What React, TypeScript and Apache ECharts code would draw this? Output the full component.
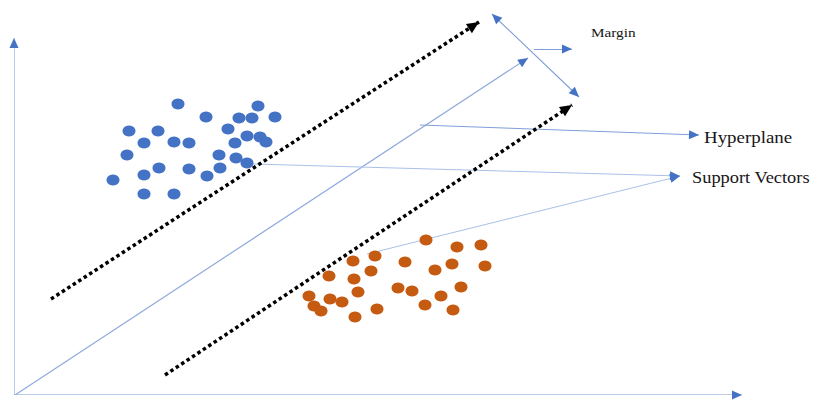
import React, { useEffect, useRef } from "react";
import * as echarts from "echarts";

// Data space: origin at the axes' corner, 1 unit = 1 px, y upward
const classA = [
  [164, 291], [244, 289], [192, 278], [225, 277], [238, 277], [261, 278],
  [115, 264], [144, 264], [214, 266], [233, 259], [246, 258], [252, 253],
  [130, 252], [160, 253], [175, 252], [221, 252], [113, 240], [205, 240],
  [222, 237], [233, 232], [145, 227], [175, 226], [206, 227], [130, 220],
  [193, 219], [99, 215], [130, 201], [160, 201],
];
const classB = [
  [412, 155], [443, 148], [467, 150], [361, 139], [339, 134], [391, 133],
  [438, 131], [471, 129], [357, 124], [421, 125], [315, 119], [340, 116],
  [447, 108], [384, 107], [398, 104], [344, 103], [295, 99], [427, 99],
  [316, 96], [328, 93], [300, 89], [411, 90], [307, 84], [363, 86],
  [439, 85], [341, 78],
];
const hyperplane = [[1, 0], [514, 337]];
const upperSupport = [[37, 96], [465, 373]];
const lowerSupport = [[151, 20], [558, 290]];
const marginArrow = [[478, 381], [565, 298]];
const marginPointer = [[520, 346], [558, 346]];
const hyperplanePointer = [[406, 270], [685, 260]];
const supportPointerA = [[239, 231], [666, 219]];
const supportPointerB = [[353, 141], [666, 219]];
const yAxisLine = [[0, 0], [0, 357]];
const xAxisLine = [[0, 0], [728, 0]];
const labelTexts = ["Margin", "Hyperplane", "Support Vectors"];

const BLUE = "#4472C4";
const ORANGE = "#C55A11";

function head(seg: number[][], atStart: boolean, len: number) {
  const a = atStart ? seg[1] : seg[0];
  const b = atStart ? seg[0] : seg[1];
  const dx = b[0] - a[0];
  const dy = b[1] - a[1];
  const L = Math.hypot(dx, dy);
  const ux = dx / L;
  const uy = dy / L;
  return {
    value: [b[0] - (ux * len) / 2, b[1] - (uy * len) / 2],
    symbolRotate: (Math.atan2(dy, dx) * 180) / Math.PI - 90,
  };
}

export default function App() {
  const ref = useRef<HTMLDivElement>(null);
  useEffect(() => {
    if (!ref.current) return;
    const chart = echarts.init(ref.current, undefined, { renderer: "svg" });
    const serif = "'Liberation Serif', 'Times New Roman', serif";
    const thin = (seg: number[][], color: string, width: number) => ({
      coords: seg,
      lineStyle: { color, width, type: "solid", opacity: 1 },
    });
    const dotted = (seg: number[][]) => ({
      coords: seg,
      lineStyle: { color: "#000", width: 3.5, type: [3.5, 3], opacity: 1 },
    });
    const label = (text: string, x: number, y: number, size: number, sx: number) => ({
      type: "text",
      x,
      y,
      scaleX: sx,
      style: {
        text,
        fontSize: size,
        fontFamily: serif,
        fill: "#161616",
        textAlign: "left",
        textVerticalAlign: "middle",
        align: "left",
        verticalAlign: "middle",
      },
    });
    chart.setOption({
      animation: false,
      grid: { left: 14, right: 0, top: 0, bottom: 6 },
      xAxis: { type: "value", min: 0, max: 801, show: false },
      yAxis: { type: "value", min: 0, max: 395, show: false },
      series: [
        {
          type: "lines",
          coordinateSystem: "cartesian2d",
          silent: true,
          z: 1,
          lineStyle: { opacity: 1 },
          data: [
            thin(yAxisLine, "#A6BDE6", 1.6),
            thin(xAxisLine, "#A6BDE6", 1.6),
            thin(hyperplane, "#8FAADC", 1.2),
            thin(marginArrow, "#7F9FD8", 1.1),
            thin(marginPointer, "#7F9FD8", 1.1),
            thin(hyperplanePointer, "#7F9FD8", 1),
            thin(supportPointerA, "#A9C0E8", 1),
            thin(supportPointerB, "#A9C0E8", 1),
          ],
        },
        {
          type: "lines",
          coordinateSystem: "cartesian2d",
          silent: true,
          z: 2,
          lineStyle: { opacity: 1 },
          data: [dotted(upperSupport), dotted(lowerSupport)],
        },
        {
          type: "scatter",
          z: 3,
          silent: true,
          symbol: "triangle",
          symbolSize: [9, 10],
          itemStyle: { color: BLUE, opacity: 1 },
          data: [
            head(yAxisLine, false, 10),
            head(xAxisLine, false, 10),
            head(hyperplane, false, 10),
            head(marginArrow, false, 10),
            head(marginArrow, true, 10),
            head(marginPointer, false, 10),
            head(hyperplanePointer, false, 10),
            head(supportPointerA, false, 10),
            head(supportPointerB, false, 10),
          ],
        },
        {
          type: "scatter",
          z: 3,
          silent: true,
          symbol: "triangle",
          symbolSize: [11, 12],
          itemStyle: { color: "#000", opacity: 1 },
          data: [head(upperSupport, false, 12), head(lowerSupport, false, 12)],
        },
        {
          type: "scatter",
          z: 4,
          silent: true,
          symbol: "circle",
          symbolSize: [13, 11],
          itemStyle: { color: BLUE, opacity: 1 },
          data: classA,
        },
        {
          type: "scatter",
          z: 4,
          silent: true,
          symbol: "circle",
          symbolSize: [13, 11],
          itemStyle: { color: ORANGE, opacity: 1 },
          data: classB,
        },
      ],
      graphic: [
        label(labelTexts[0], 591, 32, 13.5, 1.13),
        label(labelTexts[1], 704, 137, 17.5, 1.08),
        label(labelTexts[2], 692, 177, 17.5, 1.05),
      ],
    });
    return () => chart.dispose();
  }, []);
  return (
    <div
      ref={ref}
      style={{ position: "absolute", left: 0, top: 0, width: 815, height: 401 }}
    />
  );
}
